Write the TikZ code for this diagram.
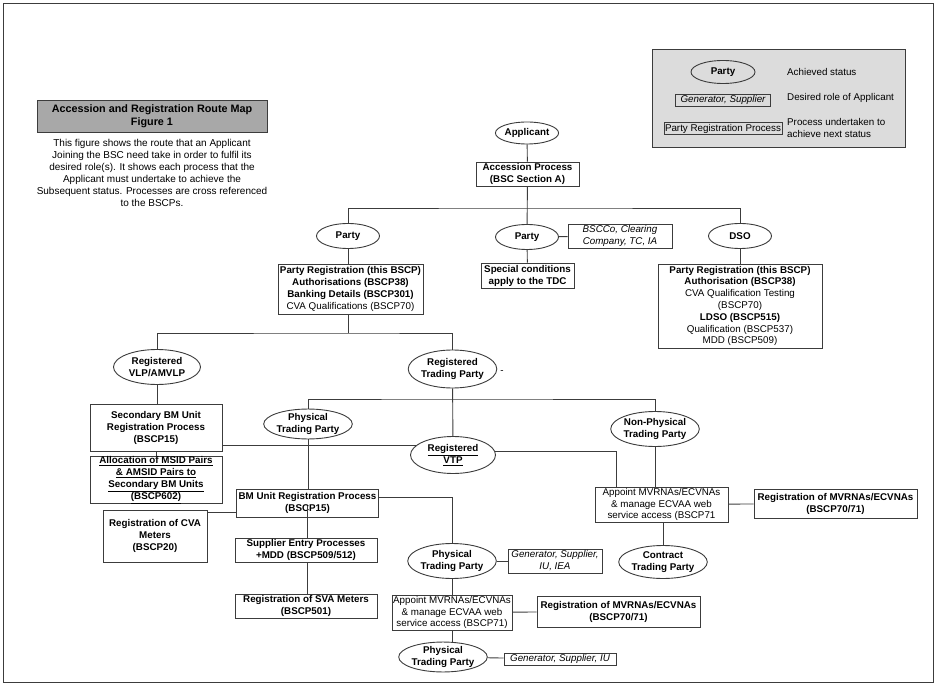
\documentclass[tikz,border=0pt]{standalone}
\usepackage{fontspec}
\setmainfont{Liberation Sans}
\usetikzlibrary{shapes.geometric}
\pgfdeclarelayer{background}
\pgfsetlayers{background,main}
\definecolor{lc}{HTML}{3C3C3C}
\definecolor{leggray}{HTML}{DCDCDC}
\definecolor{titlegray}{HTML}{A8A8A8}
\newcommand\myfs{\fontsize{9.8}{12}\selectfont}
\tikzset{
  ln/.style={draw=lc, line width=0.9pt},
  box/.style={draw=lc, line width=0.9pt, fill=white, rectangle, inner sep=0pt, align=center, font=\myfs},
  bbox/.style={box, font=\myfs\bfseries},
  ibox/.style={box, font=\myfs\itshape},
  ell/.style={draw=lc, line width=0.9pt, fill=white, ellipse, inner sep=0pt, align=center, font=\myfs\bfseries},
}
\begin{document}
\begin{tikzpicture}[x=1pt,y=-1pt]
\useasboundingbox (0,0) rectangle (939,684);
\draw[lc, line width=1pt] (3,4) rectangle (933,682);

% legend
\node[draw=lc, line width=0.9pt, fill=leggray, minimum width=253pt, minimum height=98pt, inner sep=0pt] (legend) at (778.5,98) {};
\node[ell, fill=none, minimum width=64pt, minimum height=23pt] (legParty) at (723,72) {Party};
\node[ibox, fill=none, minimum width=95pt, minimum height=12pt] (legRole) at (723,100) {Generator, Supplier};
\node[box, fill=none, minimum width=118pt, minimum height=12pt] (legProc) at (723,128.5) {Party Registration Process};
\node[anchor=west, inner sep=0pt, font=\myfs] (legT1) at (787,72) {Achieved status};
\node[anchor=west, inner sep=0pt, font=\myfs] (legT2) at (787,98) {Desired role of Applicant};
\node[anchor=west, inner sep=0pt, font=\myfs, align=left] (legT3) at (787,128) {Process undertaken to\\achieve next status};

% title
\node[draw=lc, line width=0.9pt, fill=titlegray, minimum width=230pt, minimum height=32pt, inner sep=0pt, align=center, font=\fontsize{10.8}{13.5}\selectfont\bfseries] (title) at (152,116) {Accession and Registration Route Map\\Figure 1};
\node[inner sep=0pt, align=center, font=\fontsize{10}{12}\selectfont] (desc) at (152,173) {This figure shows the route that an Applicant\\Joining the BSC need take in order to fulfil its\\desired role(s). It shows each process that the\\Applicant must undertake to achieve the\\Subsequent status. Processes are cross referenced\\to the BSCPs.};

% top level
\node[ell, minimum width=63pt, minimum height=22pt] (applicant) at (527,133) {Applicant};
\node[bbox, minimum width=103pt, minimum height=24pt] (accession) at (527.5,174) {Accession Process\\(BSC Section A)};
\node[ell, minimum width=63pt, minimum height=25pt] (party1) at (348,236) {Party};
\node[ell, minimum width=63pt, minimum height=25pt] (party2) at (527,237) {Party};
\node[ibox, minimum width=104pt, minimum height=24pt] (bscco) at (620,236) {BSCCo, Clearing\\Company, TC, IA};
\node[ell, minimum width=63pt, minimum height=25pt] (dso) at (740,236) {DSO};
\node[box, minimum width=145pt, minimum height=50pt] (partyBox) at (350.5,289) {\textbf{Party Registration (this BSCP)}\\\textbf{Authorisations (BSCP38)}\\\textbf{Banking Details (BSCP301)}\\CVA Qualifications (BSCP70)};
\node[bbox, minimum width=93pt, minimum height=25pt] (special) at (527.5,275.5) {Special conditions\\apply to the TDC};
\node[box, minimum width=164pt, minimum height=84pt, font=\fontsize{9.8}{11.8}\selectfont] (dsoBox) at (740,306) {\textbf{Party Registration (this BSCP)}\\\textbf{Authorisation (BSCP38)}\\CVA Qualification Testing\\(BSCP70)\\\textbf{LDSO (BSCP515)}\\Qualification (BSCP537)\\MDD (BSCP509)};

% second level
\node[ell, minimum width=87pt, minimum height=35pt] (vlp) at (157,367) {Registered\\VLP/AMVLP};
\node[ell, minimum width=85pt, minimum height=38pt] (rtp) at (452.5,369) {Registered\\Trading Party};
\node[inner sep=0pt, font=\myfs] (dash) at (502,372) {-};
\node[bbox, minimum width=132pt, minimum height=47pt] (secBox) at (156,427.5) {Secondary BM Unit\\Registration Process\\(BSCP15)};
\node[bbox, minimum width=132pt, minimum height=46pt, font=\fontsize{9.8}{12.2}\selectfont\bfseries] (allocBox) at (156,480) {\underline{Allocation of MSID Pairs}\\\underline{\& AMSID Pairs to}\\\underline{Secondary BM Units}\\\underline{(BSCP602)}};
\node[ell, minimum width=86pt, minimum height=28pt] (ptp1) at (308,424) {Physical\\Trading Party};
\node[ell, minimum width=85pt, minimum height=37pt] (vtp) at (453,455) {\underline{Registered}\\\underline{VTP}};
\node[ell, minimum width=76pt, minimum height=35pt] (np) at (655,429) {Non-Physical\\Trading Party};
\node[box, minimum width=133pt, minimum height=35pt, font=\fontsize{9.8}{11.5}\selectfont] (appR) at (661.5,504.5) {Appoint MVRNAs/ECVNAs\\\& manage ECVAA web\\service access (BSCP71};
\node[bbox, minimum width=163pt, minimum height=29pt] (regR) at (835.5,503.5) {Registration of MVRNAs/ECVNAs\\(BSCP70/71)};
\node[ell, minimum width=86pt, minimum height=33pt] (ctp) at (663,562) {Contract\\Trading Party};

% lower left
\node[bbox, minimum width=142pt, minimum height=28pt] (bm) at (307.5,503) {BM Unit Registration Process\\(BSCP15)};
\node[bbox, minimum width=104pt, minimum height=52pt] (cva) at (155,536) {Registration of CVA\\Meters\\(BSCP20)};
\node[bbox, minimum width=142pt, minimum height=24pt] (sup) at (306,550) {Supplier Entry Processes\\+MDD (BSCP509/512)};
\node[bbox, minimum width=142pt, minimum height=24pt] (sva) at (306,606) {Registration of SVA Meters\\(BSCP501)};
\node[ell, minimum width=83pt, minimum height=35pt] (ptp2) at (452,561) {Physical\\Trading Party};
\node[ibox, minimum width=94pt, minimum height=24pt] (genBox) at (555,561) {Generator, Supplier,\\IU, IEA};
\node[box, minimum width=120pt, minimum height=35pt, font=\fontsize{9.8}{11.5}\selectfont] (appL) at (452,612.5) {Appoint MVRNAs/ECVNAs\\\& manage ECVAA web\\service access (BSCP71)};
\node[bbox, minimum width=163pt, minimum height=31pt] (regL) at (618.5,611.5) {Registration of MVRNAs/ECVNAs\\(BSCP70/71)};
\node[ell, minimum width=75pt, minimum height=25pt] (ptp3) at (443,657) {Physical\\Trading Party};
\node[ibox, minimum width=112pt, minimum height=12pt] (gen3) at (560,659) {Generator, Supplier, IU};

% junction coordinates
\coordinate (j1) at (527,208);
\coordinate (j2) at (348,333);
\coordinate (j3) at (453,399);
\coordinate (k1) at (616,451);
\coordinate (k2) at (452,497);
\coordinate (k3) at (220,512);
\coordinate (k4) at (300,445);
\coordinate (k5) at (307,506);

\begin{pgfonlayer}{background}
\draw[ln] (applicant) -- (accession);
\draw[ln] (accession) -- (party2);
\draw[ln] (party1) |- (j1) -| (dso);
\draw[ln] (party2) -- (bscco);
\draw[ln] (party1) -- (party1 |- partyBox.center);
\draw[ln] (party2) -- (special);
\draw[ln] (dso) -- (dsoBox);
\draw[ln] (j2 |- partyBox.center) -- (j2);
\draw[ln] (vlp) |- (j2) -| (rtp);
\draw[ln] (vlp) -- (vlp |- secBox.center);
\draw[ln] (secBox) -- (allocBox);
\draw[ln] (rtp) -- (vtp);
\draw[ln] (ptp1) |- (j3) -| (np);
\draw[ln] (secBox.center |- k4) -- (vtp.center |- k4);
\draw[ln] (vtp.center |- k1) -| (appR.center -| k1);
\draw[ln] (np) -- (np |- appR.center);
\draw[ln] (appR) -- (regR);
\draw[ln] (ctp |- appR.center) -- (ctp);
\draw[ln] (ptp1) -- (ptp1 |- bm.center);
\draw[ln] (bm.center |- k2) -| (ptp2);
\draw[ln] (cva.center |- k3) -- (bm.center |- k3);
\draw[ln] (k5 |- sup.center) -- (k5 |- sva.center);
\draw[ln] (ptp2) -- (genBox);
\draw[ln] (ptp2) -- (appL);
\draw[ln] (appL) -- (regL);
\draw[ln] (appL.center) -- (appL.center |- ptp3.center);
\draw[ln] (ptp3) -- (gen3);
\end{pgfonlayer}
\draw[ln] (k5) -- (k5 |- sup.north);
\end{tikzpicture}
\end{document}
